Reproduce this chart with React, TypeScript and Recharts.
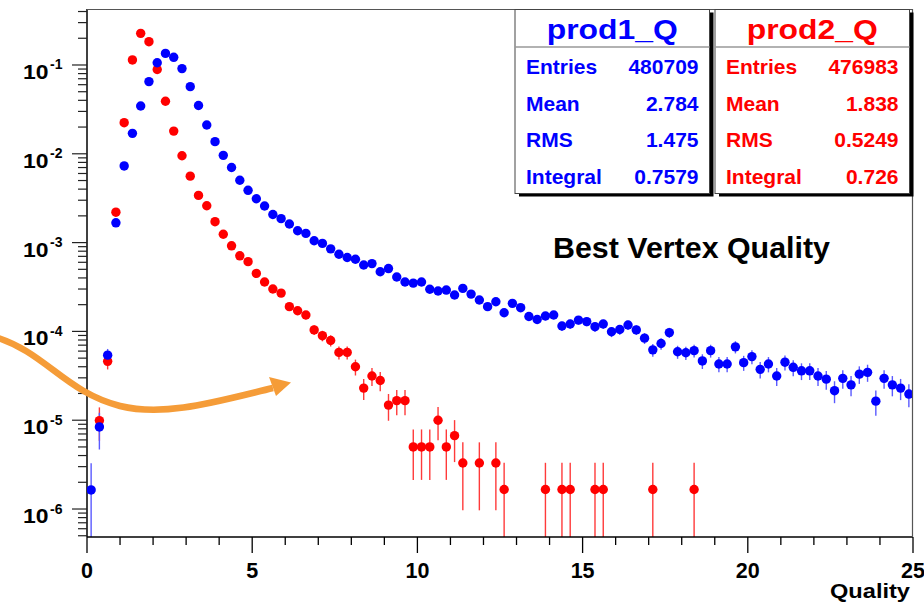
import React from 'react';
import { ScatterChart, Scatter, XAxis, YAxis, ErrorBar } from 'recharts';

// ---------- data ----------
const BIN_WIDTH = 0.25;
const X_MIN = 0;
const X_MAX = 25;
const Y_MIN = 4.84e-7;
const Y_MAX = 0.427;
const ENTRY_WEIGHT = 1.65e-6; // normalised weight of one entry (for error bars)

// prod1_Q, 100 bins of width 0.25 from 0 to 25
const PROD1_Q: (number | null)[] = [
  1.64e-6, 8.4e-6, 5.4e-5, 1.67e-3, 7.3e-3, 0.017, 0.0345, 0.065, 0.106, 0.135,
  0.122, 0.091, 0.057, 0.035, 0.0211, 0.0137, 0.0096, 0.007, 0.00503, 0.00388,
  0.00312, 0.00258, 0.00207, 0.00186, 0.00162, 0.00136, 0.00127, 0.00105, 9.8e-4, 8.5e-4,
  7.4e-4, 6.8e-4, 6.5e-4, 5.6e-4, 5.8e-4, 4.7e-4, 5.1e-4, 4.1e-4, 3.6e-4, 3.5e-4,
  3.6e-4, 2.98e-4, 2.85e-4, 2.92e-4, 2.57e-4, 3.05e-4, 2.63e-4, 2.26e-4, 1.9e-4, 2.16e-4,
  1.62e-4, 2.07e-4, 1.85e-4, 1.47e-4, 1.36e-4, 1.49e-4, 1.53e-4, 1.15e-4, 1.21e-4, 1.34e-4,
  1.29e-4, 1.13e-4, 1.21e-4, 9.9e-5, 1.05e-4, 1.18e-4, 1.04e-4, 8.4e-5, 6.2e-5, 7.3e-5,
  9.7e-5, 5.9e-5, 5.75e-5, 6.07e-5, 4.65e-5, 6.07e-5, 4.3e-5, 4.3e-5, 6.7e-5, 4.45e-5,
  5.2e-5, 3.74e-5, 4.3e-5, 3.15e-5, 4.5e-5, 3.94e-5, 3.6e-5, 3.6e-5, 3.15e-5, 2.9e-5,
  2.15e-5, 2.96e-5, 2.5e-5, 3.3e-5, 3.46e-5, 1.64e-5, 2.96e-5, 2.5e-5, 2.3e-5, 1.97e-5,
];

// prod2_Q, same binning
const PROD2_Q: (number | null)[] = [
  null, 9.9e-6, 4.6e-5, 2.2e-3, 0.0224, 0.114, 0.227, 0.183, 0.089, 0.039,
  0.018, 0.0095, 0.0056, 0.0034, 0.0026, 0.00172, 0.00124, 0.00092, 0.00071, 0.00061,
  0.00045, 0.00036, 0.0003, 0.00027, 1.9e-4, 1.71e-4, 1.53e-4, 1.04e-4, 8.95e-5, 7.9e-5,
  5.8e-5, 5.8e-5, 4.0e-5, 2.3e-5, 3.15e-5, 2.8e-5, 1.48e-5, 1.66e-5, 1.66e-5, 5e-6,
  5e-6, 5e-6, 1e-5, 5e-6, 6.7e-6, 3.3e-6, null, 3.3e-6, null, 3.3e-6,
  1.66e-6, null, null, null, null, 1.66e-6, null, 1.66e-6, 1.66e-6, null,
  null, 1.66e-6, 1.66e-6, null, null, null, null, null, 1.66e-6, null,
  null, null, null, 1.66e-6, null, null, null, null, null, null,
  null, null, null, null, null, null, null, null, null, null,
  null, null, null, null, null, null, null, null, null, null,
];

const X_MAJOR_TICKS = [0, 5, 10, 15, 20, 25];
const X_MINOR_STEP = 1;
const Y_DECADES = [1e-7, 1e-6, 1e-5, 1e-4, 1e-3, 1e-2, 1e-1];
const Y_MAJOR_TICKS = [1e-6, 1e-5, 1e-4, 1e-3, 1e-2, 1e-1];

const STATS_1 = [
  ['Entries', '480709'],
  ['Mean', '2.784'],
  ['RMS', '1.475'],
  ['Integral', '0.7579'],
];
const STATS_2 = [
  ['Entries', '476983'],
  ['Mean', '1.838'],
  ['RMS', '0.5249'],
  ['Integral', '0.726'],
];

const TITLE = 'Best Vertex Quality';
const X_TITLE = 'Quality';

// ---------- derived ----------
const toPoints = (vals: (number | null)[]) =>
  vals
    .map((v, i) => {
      if (v == null) return null;
      const e = Math.sqrt(v * ENTRY_WEIGHT);
      const low = Math.min(e, v - Y_MIN * 1.0005);
      return { x: (i + 0.5) * BIN_WIDTH, y: v, err: [low, e] };
    })
    .filter(Boolean) as { x: number; y: number; err: number[] }[];

const BLUE_POINTS = toPoints(PROD1_Q);
const RED_POINTS = toPoints(PROD2_Q);

const X_TICKS: number[] = [];
for (let t = X_MIN; t <= X_MAX + 1e-9; t += X_MINOR_STEP) X_TICKS.push(t);

const Y_TICKS: number[] = [];
Y_DECADES.forEach((d) => {
  for (let m = 1; m <= 9; m++) {
    const v = m * d;
    if (v >= Y_MIN && v <= Y_MAX) Y_TICKS.push(v);
  }
});

const FONT = '"Liberation Sans", Arial, Helvetica, sans-serif';
const BLUE = '#0000ff';
const RED = '#ff0000';

const isMajorY = (v: number) =>
  Y_MAJOR_TICKS.some((m) => Math.abs(v / m - 1) < 1e-6);

const XTick = (props: any) => {
  const { x, y, payload } = props;
  const v = payload.value;
  const major = X_MAJOR_TICKS.some((m) => Math.abs(m - v) < 1e-9);
  return (
    <g>
      <line x1={x} x2={x} y1={y} y2={y + (major ? 16 : 8)} stroke="#000" strokeWidth={1.3} />
      {major && (
        <text x={x} y={y + 41} textAnchor="middle" fontFamily={FONT} fontWeight="bold" fontSize={21.5} fill="#000">
          {String(v)}
        </text>
      )}
    </g>
  );
};

const YTick = (props: any) => {
  const { x, y, payload } = props;
  const v = payload.value;
  const major = isMajorY(v);
  const exp = Math.round(Math.log10(v));
  return (
    <g>
      <line x1={x - (major ? 15 : 9)} x2={x} y1={y} y2={y} stroke="#222" strokeWidth={1.2} />
      {major && (
        <g>
          <text
            x={x - 38.5}
            y={y + 14}
            textAnchor="end"
            fontFamily={FONT}
            fontWeight="bold"
            fontSize={21}
            fill="#000"
            textLength={25.5}
            lengthAdjust="spacingAndGlyphs"
          >
            10
          </text>
          <text x={x - 37} y={y + 4.5} textAnchor="start" fontFamily={FONT} fontWeight="bold" fontSize={14} fill="#000">
            {String(exp)}
          </text>
        </g>
      )}
    </g>
  );
};

const dot = (color: string) => (p: any) =>
  p.cx == null || p.cy == null ? <g /> : <circle cx={p.cx} cy={p.cy} r={4.7} fill={color} />;

const StatBox = ({ x, w, title, color, rows }: any) => {
  const top = 9.5;
  const h = 184;
  return (
    <g>
      <rect x={x + 4} y={top + 3} width={w} height={h} fill="#000" />
      <rect x={x} y={top} width={w} height={h} fill="#fff" stroke="#444" strokeWidth={1} />
      <line x1={x} x2={x + w} y1={47} y2={47} stroke="#999" strokeWidth={1.5} />
      <text
        x={x + w / 2}
        y={39}
        textAnchor="middle"
        fontFamily={FONT}
        fontWeight="bold"
        fontSize={27}
        fill={color}
        textLength={131}
        lengthAdjust="spacingAndGlyphs"
      >
        {title}
      </text>
      {rows.map((r: string[], i: number) => (
        <g key={r[0]}>
          <text x={x + 11} y={74 + i * 36.7} fontFamily={FONT} fontWeight="bold" fontSize={21} fill={color}>
            {r[0]}
          </text>
          <text x={x + w - 11} y={74 + i * 36.7} textAnchor="end" fontFamily={FONT} fontWeight="bold" fontSize={21} fill={color}>
            {r[1]}
          </text>
        </g>
      ))}
    </g>
  );
};

export default function App() {
  return (
    <div style={{ position: 'absolute', left: 0, top: 0, width: 924, height: 605, background: '#fff' }}>
      <div style={{ position: 'absolute', left: 0, top: 0 }}>
        <ScatterChart width={924} height={605} margin={{ top: 9, right: 11, left: 0, bottom: 0 }}>
          <XAxis
            dataKey="x"
            type="number"
            domain={[X_MIN, X_MAX]}
            ticks={X_TICKS}
            interval={0}
            height={68}
            tickSize={0}
            tickMargin={0}
            tickLine={false}
            axisLine={{ stroke: '#000', strokeWidth: 1.5 }}
            tick={(p: any) => <XTick {...p} />}
            allowDataOverflow
          />
          <YAxis
            dataKey="y"
            type="number"
            scale="log"
            domain={[Y_MIN, Y_MAX]}
            ticks={Y_TICKS}
            interval={0}
            width={87}
            tickSize={0}
            tickMargin={0}
            tickLine={false}
            axisLine={{ stroke: '#000', strokeWidth: 1.5 }}
            tick={(p: any) => <YTick {...p} />}
            allowDataOverflow
          />
          <Scatter data={RED_POINTS} fill={RED} shape={dot(RED)} isAnimationActive={false}>
            <ErrorBar dataKey="err" direction="y" width={0} stroke="#ff3a3a" strokeWidth={1.4} isAnimationActive={false} />
          </Scatter>
          <Scatter data={BLUE_POINTS} fill={BLUE} shape={dot(BLUE)} isAnimationActive={false}>
            <ErrorBar dataKey="err" direction="y" width={0} stroke="#5a5aff" strokeWidth={1.4} isAnimationActive={false} />
          </Scatter>
        </ScatterChart>
      </div>
      <svg
        width={924}
        height={605}
        style={{ position: 'absolute', left: 0, top: 0, pointerEvents: 'none' }}
      >
        {/* frame */}
        <line x1={87} x2={913} y1={9.5} y2={9.5} stroke="#555" strokeWidth={1.2} />
        <line x1={912.5} x2={912.5} y1={9} y2={537} stroke="#555" strokeWidth={1.2} />
        <StatBox x={515} w={194.5} title="prod1_Q" color={BLUE} rows={STATS_1} />
        <StatBox x={715} w={194.5} title="prod2_Q" color={RED} rows={STATS_2} />
        <text
          x={691.5}
          y={258}
          textAnchor="middle"
          fontFamily={FONT}
          fontWeight="bold"
          fontSize={30}
          fill="#000"
          textLength={277}
          lengthAdjust="spacingAndGlyphs"
        >
          {TITLE}
        </text>
        <text
          x={910}
          y={598}
          textAnchor="end"
          fontFamily={FONT}
          fontWeight="bold"
          fontSize={21}
          fill="#000"
          textLength={80}
          lengthAdjust="spacingAndGlyphs"
        >
          {X_TITLE}
        </text>
        {/* annotation arrow */}
        <path
          d="M -5 337 C 45 352, 65 392, 120 406 C 165 417, 215 402, 273 388"
          fill="none"
          stroke="#f59c38"
          strokeWidth={6.5}
        />
        <polygon points="269,377 291,382.5 276,396" fill="#f59c38" />
      </svg>
    </div>
  );
}
